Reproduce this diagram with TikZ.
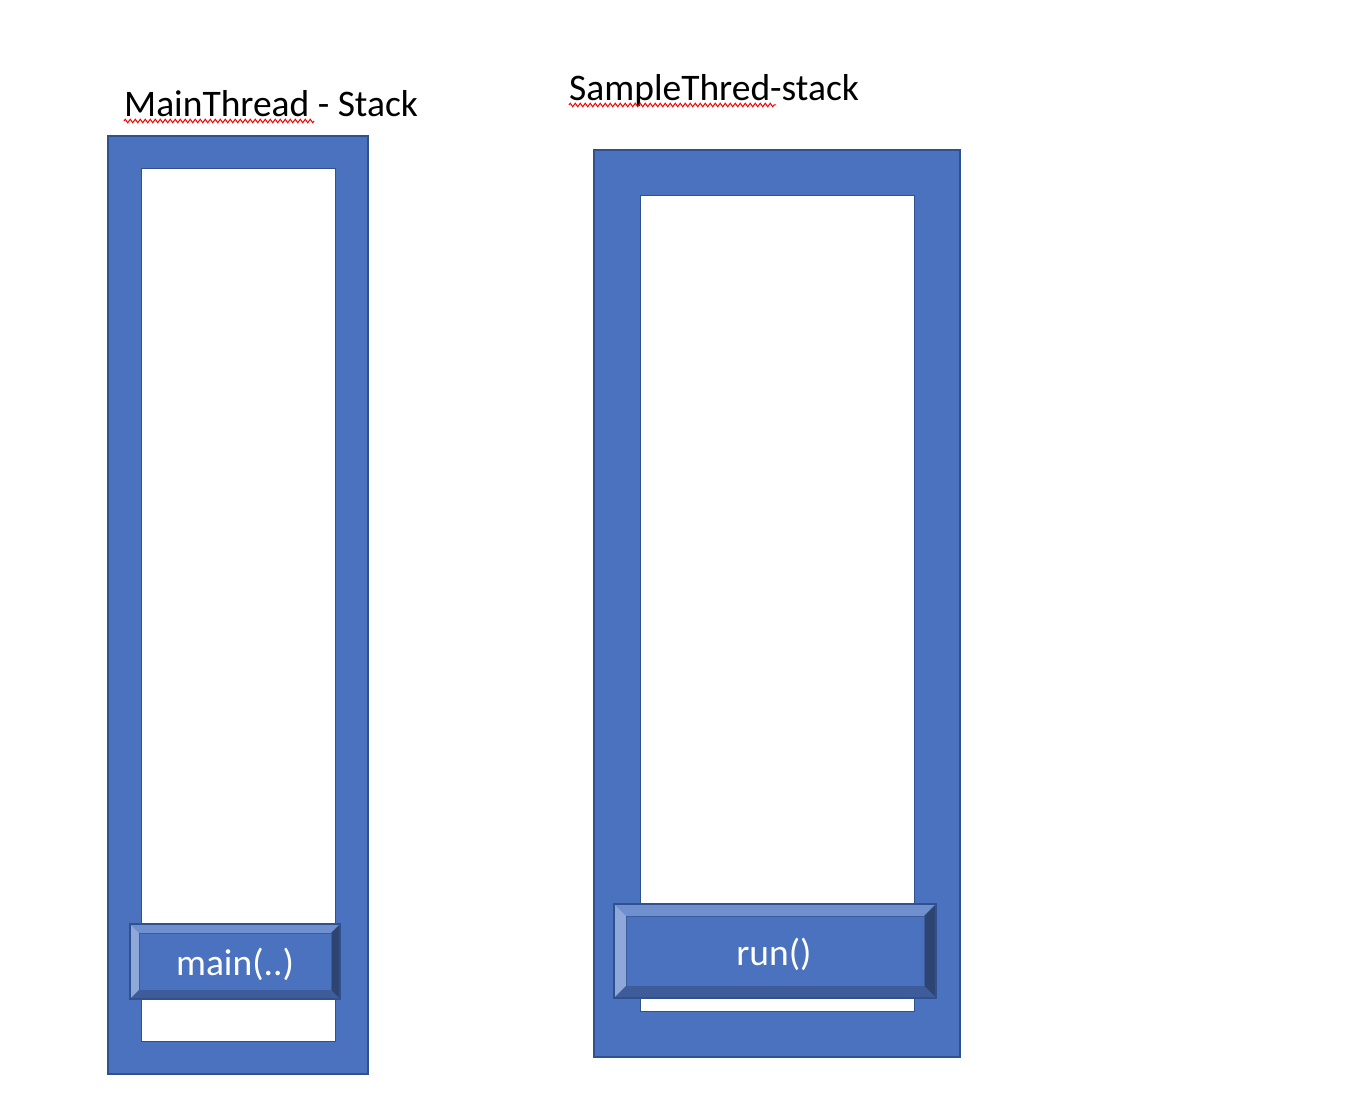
\documentclass[tikz,border=0pt]{standalone}
\usepackage{fontspec}
\setmainfont{Carlito}
\usetikzlibrary{decorations.pathmorphing}
\definecolor{obl}{HTML}{4A72BE}
\definecolor{obd}{HTML}{2F528F}
\definecolor{bvT}{HTML}{6F8FCF}
\definecolor{bvL}{HTML}{8FA8DA}
\definecolor{bvR}{HTML}{2E4574}
\definecolor{bvB}{HTML}{3D5C99}
\newcommand\bevelbtn[5]{%
  \fill[obl] (#1,#2) rectangle (#3,#4);
  \fill[bvT] (#1,#2) -- (#3,#2) -- ({#3-#5},{#2+#5}) -- ({#1+#5},{#2+#5}) -- cycle;
  \fill[bvL] (#1,#2) -- ({#1+#5},{#2+#5}) -- ({#1+#5},{#4-#5}) -- (#1,#4) -- cycle;
  \fill[bvR] (#3,#2) -- (#3,#4) -- ({#3-#5},{#4-#5}) -- ({#3-#5},{#2+#5}) -- cycle;
  \fill[bvB] (#1,#4) -- ({#1+#5},{#4-#5}) -- ({#3-#5},{#4-#5}) -- (#3,#4) -- cycle;
  \draw[bvB, line width=0.8] ({#1+#5},{#2+#5}) rectangle ({#3-#5},{#4-#5});
  \draw[obd, line width=1.5] (#1,#2) rectangle (#3,#4);
}
\begin{document}
\begin{tikzpicture}[x=1pt,y=-1pt,
  title/.style={font=\fontsize{37.5}{45}\selectfont, text=black, inner sep=0pt, anchor=base west},
  btnlbl/.style={font=\fontsize{37.5}{45}\selectfont, text=white, inner sep=0pt, anchor=base},
  frame/.style={fill=obl, draw=obd, line width=1.5},
  well/.style={fill=white, draw=obd, line width=1},
  squig/.style={draw=red, line width=1, decorate, decoration={zigzag, amplitude=1.8, segment length=5}}]
\useasboundingbox (0,0) rectangle (1358,1110);

% left stack
\path[frame] (108,136) rectangle (368,1074);
\path[well] (141,169) rectangle (335,1041);
\bevelbtn{130}{924}{340}{999}{9}
\node[btnlbl] (mainlbl) at (235,975) {main(..)};

% right stack
\path[frame] (594,150) rectangle (960,1057);
\path[well] (640,196) rectangle (914,1011);
\bevelbtn{614}{904}{936}{998}{12}
\node[btnlbl] (runlbl) at (774,965) {run()};

% titles
\node[title] (t1) at (124,117) {MainThread - Stack};
\node[title] (t2) at (569,101) {SampleThred-stack};
\coordinate (s1a) at (124,121); \coordinate (s1b) at (314,121);
\coordinate (s2a) at (569,105); \coordinate (s2b) at (776,105);
\draw[squig] (s1a) -- (s1b);
\draw[squig] (s2a) -- (s2b);
\end{tikzpicture}
\end{document}
